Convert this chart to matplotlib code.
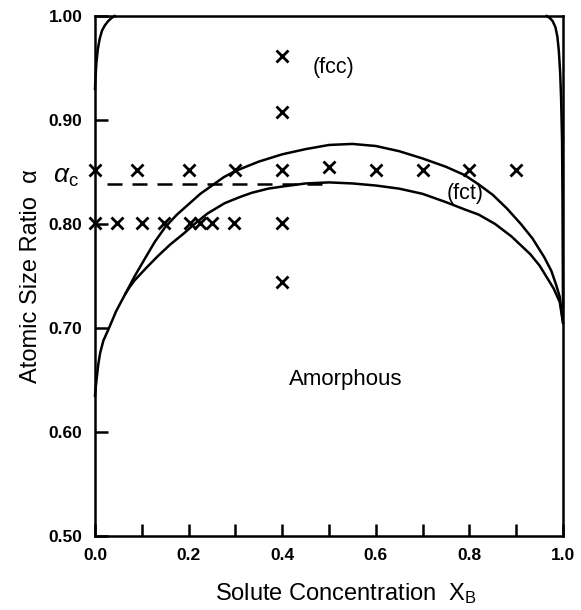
import matplotlib
matplotlib.use("Agg")
import matplotlib.pyplot as plt
from matplotlib.ticker import MultipleLocator

plt.rcParams['font.family'] = ['Liberation Sans', 'DejaVu Sans']
plt.rcParams['mathtext.fontset'] = 'custom'
plt.rcParams['mathtext.rm'] = 'Liberation Sans'
plt.rcParams['mathtext.it'] = 'Liberation Sans:italic'

# curves (x = solute concentration, a = size ratio)
fcc_left_x = [0.0, 0.001, 0.003, 0.006, 0.010, 0.015, 0.021, 0.028, 0.035, 0.042]
fcc_left_a = [0.93, 0.94, 0.955, 0.968, 0.978, 0.986, 0.991, 0.995, 0.998, 1.0]

fcc_right_x = [0.965, 0.972, 0.978, 0.984, 0.988, 0.991, 0.994, 0.996, 0.998, 0.999, 1.0]
fcc_right_a = [1.0, 0.998, 0.995, 0.989, 0.98, 0.967, 0.945, 0.92, 0.88, 0.82, 0.72]

upper_x = [0.0, 0.002, 0.004, 0.007, 0.011, 0.018, 0.03, 0.045, 0.065, 0.085,
           0.107, 0.128, 0.15, 0.175, 0.20, 0.225, 0.25, 0.275, 0.30, 0.35,
           0.40, 0.45, 0.50, 0.55, 0.60, 0.65, 0.70, 0.75, 0.79, 0.82, 0.85,
           0.88, 0.91, 0.935, 0.96, 0.975, 0.985, 0.993, 1.0]
upper_a = [0.635, 0.645, 0.653, 0.665, 0.676, 0.688, 0.70, 0.716, 0.733, 0.75,
           0.767, 0.783, 0.797, 0.809, 0.819, 0.829, 0.837, 0.845, 0.851, 0.86,
           0.867, 0.872, 0.876, 0.877, 0.875, 0.870, 0.863, 0.855, 0.847, 0.838,
           0.828, 0.815, 0.80, 0.786, 0.768, 0.755, 0.742, 0.73, 0.705]

lower_x = [0.065, 0.075, 0.085, 0.11, 0.134, 0.16, 0.19, 0.21, 0.24, 0.277,
           0.31, 0.335, 0.37, 0.40, 0.45, 0.50, 0.55, 0.60, 0.65, 0.70, 0.75,
           0.79, 0.82, 0.855, 0.89, 0.93, 0.95, 0.965, 0.98, 0.993, 1.0]
lower_a = [0.733, 0.74, 0.746, 0.758, 0.769, 0.78, 0.791, 0.799, 0.81, 0.82,
           0.826, 0.83, 0.834, 0.836, 0.839, 0.84, 0.839, 0.837, 0.834, 0.829,
           0.821, 0.814, 0.809, 0.80, 0.788, 0.771, 0.76, 0.749, 0.738, 0.725,
           0.705]

alpha_c = 0.838
alpha_c_x = [0.025, 0.5]

# measured points (x marks)
row85_x = [0.0, 0.09, 0.2, 0.3, 0.4, 0.5, 0.6, 0.7, 0.8, 0.9]
row85_a = [0.852, 0.852, 0.852, 0.852, 0.852, 0.855, 0.852, 0.852, 0.852, 0.852]
row80_x = [0.0, 0.047, 0.10, 0.148, 0.203, 0.224, 0.251, 0.298, 0.4]
row80_a = [0.801] * 9
col40_x = [0.4, 0.4, 0.4]
col40_a = [0.962, 0.908, 0.744]

y_ticks = [0.50, 0.60, 0.70, 0.80, 0.90, 1.00]
y_labels = ['0.50', '0.60', '0.70', '0.80', '0.90', '1.00']
x_ticks = [0.0, 0.2, 0.4, 0.6, 0.8, 1.0]
x_labels = ['0.0', '0.2', '0.4', '0.6', '0.8', '1.0']

fig = plt.figure(figsize=(5.81, 6.10), dpi=100)
ax = fig.add_axes([95/581, 1-536/610, (563-95)/581, (536-16)/610])

lw = 1.8
ax.plot(fcc_left_x, fcc_left_a, color='black', lw=lw, clip_on=False)
ax.plot(fcc_right_x, fcc_right_a, color='black', lw=lw, clip_on=False)
ax.plot(upper_x, upper_a, color='black', lw=lw, clip_on=False)
ax.plot(lower_x, lower_a, color='black', lw=lw, clip_on=False)
ax.plot(alpha_c_x, [alpha_c, alpha_c], color='black', lw=lw, dashes=(6, 4))

for xs, ys in [(row85_x, row85_a), (row80_x, row80_a), (col40_x, col40_a)]:
    ax.plot(xs, ys, linestyle='none', marker='x', ms=8.5, mew=2.0,
            color='black', clip_on=False, zorder=5)

ax.text(0.51, 0.95, '(fcc)', fontsize=15.5, ha='center', va='center')
ax.text(0.79, 0.829, '(fct)', fontsize=15.5, ha='center', va='center')
ax.text(0.535, 0.65, 'Amorphous', fontsize=16, ha='center', va='center')
ax.text(-0.035, 0.845, r'$\alpha_\mathrm{c}$', fontsize=19, ha='right',
        va='center', clip_on=False)

ax.set_xlim(0, 1)
ax.set_ylim(0.5, 1.0)
ax.set_xticks(x_ticks)
ax.set_xticklabels(x_labels, fontweight='bold', fontsize=12.5)
ax.xaxis.set_minor_locator(MultipleLocator(0.1))
ax.set_yticks(y_ticks)
ax.set_yticklabels(y_labels, fontweight='bold', fontsize=12.5)
ax.tick_params(which='both', direction='in', length=9, width=1.8,
               top=False, right=False)
ax.tick_params(axis='x', pad=9)
ax.tick_params(axis='y', pad=9)
for s in ax.spines.values():
    s.set_linewidth(1.8)

ax.set_xlabel(r'Solute Concentration  $\mathregular{X_B}$', fontsize=17,
              labelpad=8)
ax.xaxis.set_label_coords(0.536, -0.087)
ax.set_ylabel('Atomic Size Ratio  α', fontsize=17, labelpad=5)

fig.savefig('out.png', dpi=100)
